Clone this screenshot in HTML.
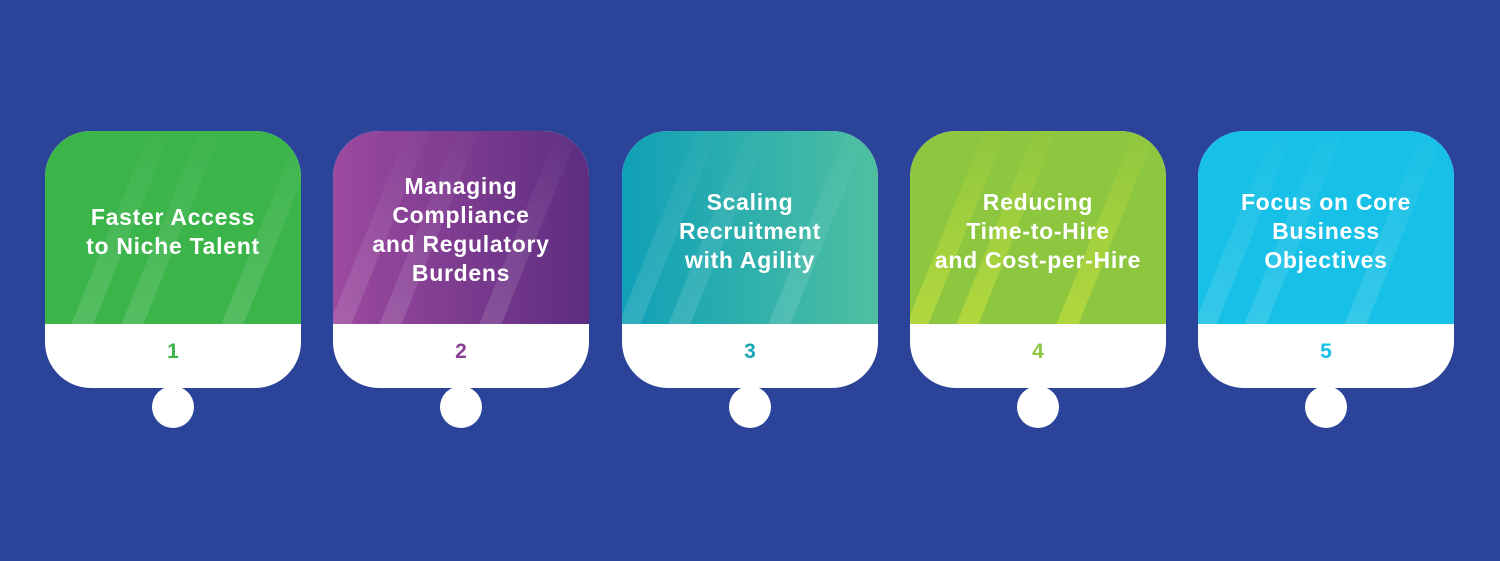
<!DOCTYPE html>
<html><head><meta charset="utf-8"><style>
html,body{margin:0;padding:0}
body{width:1500px;height:561px;background:#2b4499;position:relative;overflow:hidden;font-family:"Liberation Sans",sans-serif}
.card{position:absolute;top:131px;width:256px;height:257px;border-radius:46px;overflow:hidden;background:#fff}
.top{position:absolute;left:0;top:0;width:256px;height:193px;overflow:hidden}
.stripe{position:absolute;top:-20px;width:22px;height:260px;background:linear-gradient(180deg,rgba(255,255,255,0),rgba(255,255,255,0.16));transform:skewX(-22deg)}
.txt{position:absolute;left:0;width:256px;top:0;height:193px;display:flex;align-items:center;justify-content:center;text-align:center;color:#fff;font-weight:bold;font-size:23px;letter-spacing:0.7px;line-height:29px;padding-top:8px;box-sizing:border-box}
.num{position:absolute;left:0;width:256px;top:209px;text-align:center;font-weight:bold;font-size:21px}
.dot{position:absolute;top:386px;width:42px;height:42px;border-radius:50%;background:#fff}
</style></head><body>

<div class="card" style="left:45px"><div class="top" style="background:#3bb44a">
<div class="stripe" style="left:60px"></div><div class="stripe" style="left:110px"></div><div class="stripe" style="left:210px"></div></div>
<div class="txt">Faster Access<br>to Niche Talent</div><div class="num" style="color:#3bb44a">1</div></div>
<div class="dot" style="left:152px"></div>

<div class="card" style="left:333px"><div class="top" style="background:linear-gradient(90deg,#9c4a9f,#5d2d80)">
<div class="stripe" style="left:30px"></div><div class="stripe" style="left:80px"></div><div class="stripe" style="left:180px"></div></div>
<div class="txt" style="padding-top:4px">Managing<br>Compliance<br>and Regulatory<br>Burdens</div><div class="num" style="color:#8d3f93">2</div></div>
<div class="dot" style="left:440px"></div>

<div class="card" style="left:622px"><div class="top" style="background:linear-gradient(90deg,#0fa0b8,#4fc0a0)">
<div class="stripe" style="left:30px"></div><div class="stripe" style="left:80px"></div><div class="stripe" style="left:180px"></div></div>
<div class="txt">Scaling<br>Recruitment<br>with Agility</div><div class="num" style="color:#1aa3b5">3</div></div>
<div class="dot" style="left:729px"></div>

<div class="card" style="left:910px"><div class="top" style="background:#8dc63f">
<div class="stripe" style="left:30px;background:linear-gradient(180deg,rgba(230,240,60,0),rgba(230,240,60,0.5))"></div><div class="stripe" style="left:80px;background:linear-gradient(180deg,rgba(230,240,60,0),rgba(230,240,60,0.5))"></div><div class="stripe" style="left:180px;background:linear-gradient(180deg,rgba(230,240,60,0),rgba(230,240,60,0.5))"></div></div>
<div class="txt">Reducing<br>Time-to-Hire<br>and Cost-per-Hire</div><div class="num" style="color:#8dc63f">4</div></div>
<div class="dot" style="left:1017px"></div>

<div class="card" style="left:1198px"><div class="top" style="background:#17c0e6">
<div class="stripe" style="left:30px"></div><div class="stripe" style="left:80px"></div><div class="stripe" style="left:180px"></div></div>
<div class="txt">Focus on Core<br>Business<br>Objectives</div><div class="num" style="color:#17c0e6">5</div></div>
<div class="dot" style="left:1305px"></div>

</body></html>
